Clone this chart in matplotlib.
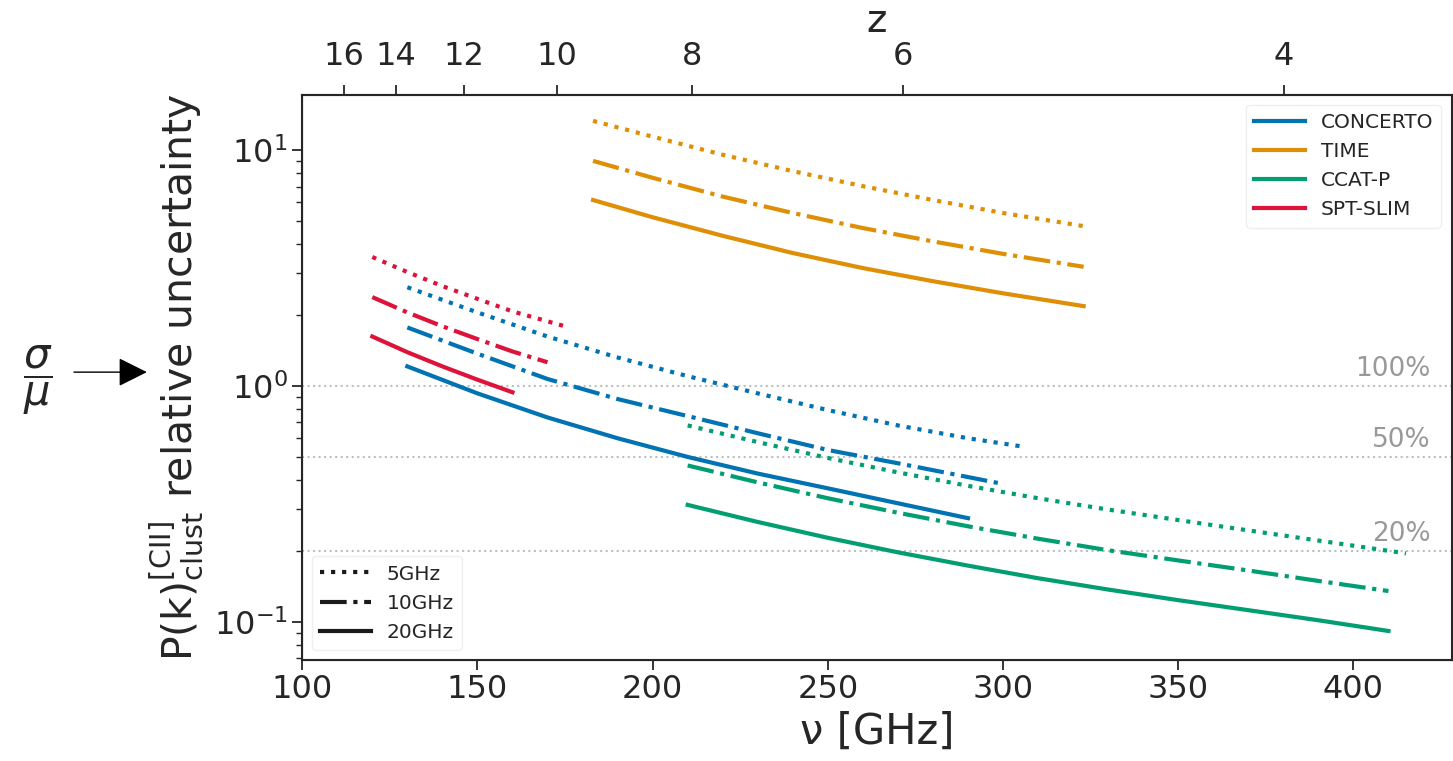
import numpy as np
import matplotlib
matplotlib.use('Agg')
import matplotlib.pyplot as plt
from matplotlib.lines import Line2D

# [CII] rest frequency (GHz) for the redshift axis
nu_cii = 1900.54

experiments = ['CONCERTO', 'TIME', 'CCAT-P', 'SPT-SLIM']
colors = ['#0173b2', '#de8f05', '#029e73', '#dc143c']
resolutions = ['5GHz', '10GHz', '20GHz']
styles = [':', '-.', '-']

# CONCERTO
concerto_nu_5 = [130, 150, 170, 190, 210, 230, 250, 270, 290, 305]
concerto_5 = [2.62, 2.05, 1.62, 1.32, 1.10, 0.93, 0.79, 0.68, 0.60, 0.555]
concerto_nu_10 = [130, 150, 170, 190, 210, 230, 250, 270, 300]
concerto_10 = [1.77, 1.37, 1.07, 0.88, 0.745, 0.63, 0.535, 0.47, 0.384]
concerto_nu_20 = [130, 150, 170, 190, 210, 230, 250, 270, 290]
concerto_20 = [1.21, 0.93, 0.735, 0.60, 0.50, 0.425, 0.368, 0.318, 0.275]

# TIME
time_nu = [183, 200, 220, 240, 260, 280, 300, 323]
time_5 = [13.3, 11.4, 9.55, 8.14, 7.03, 6.14, 5.41, 4.76]
time_10 = [9.0, 7.63, 6.35, 5.41, 4.67, 4.10, 3.63, 3.2]
time_20 = [6.14, 5.19, 4.33, 3.66, 3.16, 2.78, 2.47, 2.18]

# CCAT-P
ccat_nu_5 = [210, 230, 250, 270, 290, 310, 330, 350, 370, 390, 415]
ccat_5 = [0.68, 0.578, 0.495, 0.43, 0.377, 0.334, 0.299, 0.27, 0.244, 0.221, 0.195]
ccat_nu = [210, 230, 250, 270, 290, 310, 330, 350, 370, 390, 410]
ccat_10 = [0.46, 0.39, 0.334, 0.29, 0.254, 0.225, 0.201, 0.182, 0.165, 0.149, 0.135]
ccat_20 = [0.313, 0.265, 0.227, 0.197, 0.173, 0.153, 0.137, 0.1235, 0.112, 0.1015, 0.0914]

# SPT-SLIM
spt_nu_5 = [120, 130, 140, 150, 160, 175]
spt_5 = [3.52, 3.04, 2.65, 2.34, 2.07, 1.79]
spt_nu_10 = [120, 130, 140, 150, 160, 170]
spt_10 = [2.38, 2.05, 1.79, 1.58, 1.40, 1.26]
spt_nu_20 = [120, 130, 140, 150, 160]
spt_20 = [1.62, 1.39, 1.21, 1.063, 0.94]

curves = {
    'CONCERTO': [(concerto_nu_5, concerto_5), (concerto_nu_10, concerto_10), (concerto_nu_20, concerto_20)],
    'TIME': [(time_nu, time_5), (time_nu, time_10), (time_nu, time_20)],
    'CCAT-P': [(ccat_nu_5, ccat_5), (ccat_nu, ccat_10), (ccat_nu, ccat_20)],
    'SPT-SLIM': [(spt_nu_5, spt_5), (spt_nu_10, spt_10), (spt_nu_20, spt_20)],
}

levels = [1.0, 0.5, 0.2]
level_labels = ['100%', '50%', '20%']

z_ticks = [16, 14, 12, 10, 8, 6, 4]

plt.rcParams['text.color'] = '0.15'
plt.rcParams['axes.labelcolor'] = '0.15'
plt.rcParams['xtick.color'] = '0.15'
plt.rcParams['ytick.color'] = '0.15'
plt.rcParams['axes.edgecolor'] = '0.15'

fig = plt.figure(figsize=(14.53, 7.61), dpi=100)
ax = fig.add_axes([0.208, 0.133, 0.791, 0.742])

for lev, lab in zip(levels, level_labels):
    ax.axhline(lev, color='0.75', ls=':', lw=1.5, zorder=1)
    ax.text(422, lev * 1.035, lab, ha='right', va='bottom', fontsize=19, color='0.6')

for name, col in zip(experiments, colors):
    for (nu, val), ls in zip(curves[name], styles):
        ax.plot(nu, val, color=col, ls=ls, lw=3, zorder=3)

ax.set_yscale('log')
ax.set_xlim(100, 428)
ax.set_ylim(0.069, 17.1)
ax.set_xticks([100, 150, 200, 250, 300, 350, 400])
ax.tick_params(axis='both', which='major', labelsize=23, length=7, width=1.3)
ax.tick_params(axis='y', which='minor', length=4, width=1)
for sp in ax.spines.values():
    sp.set_linewidth(1.5)

ax.set_xlabel('ν [GHz]', fontsize=30, labelpad=4)
ax.set_ylabel(r'P(k)$^{\rm [CII]}_{\rm clust}$ relative uncertainty', fontsize=29.5, labelpad=6)

# redshift axis on top
ax2 = ax.twiny()
ax2.set_xlim(ax.get_xlim())
ax2.set_xticks([nu_cii / (1 + z) for z in z_ticks])
ax2.set_xticklabels([str(z) for z in z_ticks])
ax2.tick_params(axis='x', labelsize=23, length=7, width=1.3, pad=10)
ax2.set_xlabel('z', fontsize=28, labelpad=6)
ax2.spines['top'].set_linewidth(1.5)

# legends
h1 = [Line2D([], [], color=c, lw=3) for c in colors]
leg1 = ax.legend(h1, experiments, loc='upper right', fontsize=14.5,
                 frameon=True, framealpha=0.8, edgecolor='0.92', handlelength=2.5)
ax.add_artist(leg1)
h2 = [Line2D([], [], color='0.1', lw=3, ls=s) for s in styles]
ax.legend(h2, resolutions, loc='lower left', fontsize=14.5,
          frameon=True, framealpha=0.8, edgecolor='0.92', handlelength=2.5)

# sigma / mu annotation
fig.text(0.026, 0.50, r'$\dfrac{\sigma}{\mu}$', fontsize=30, ha='center', va='center')
fig.patches.append(matplotlib.patches.FancyArrowPatch(
    (0.049, 0.511), (0.103, 0.511), transform=fig.transFigure,
    arrowstyle='-|>', mutation_scale=45, color='black', lw=1))

fig.savefig('out.png', dpi=100)
